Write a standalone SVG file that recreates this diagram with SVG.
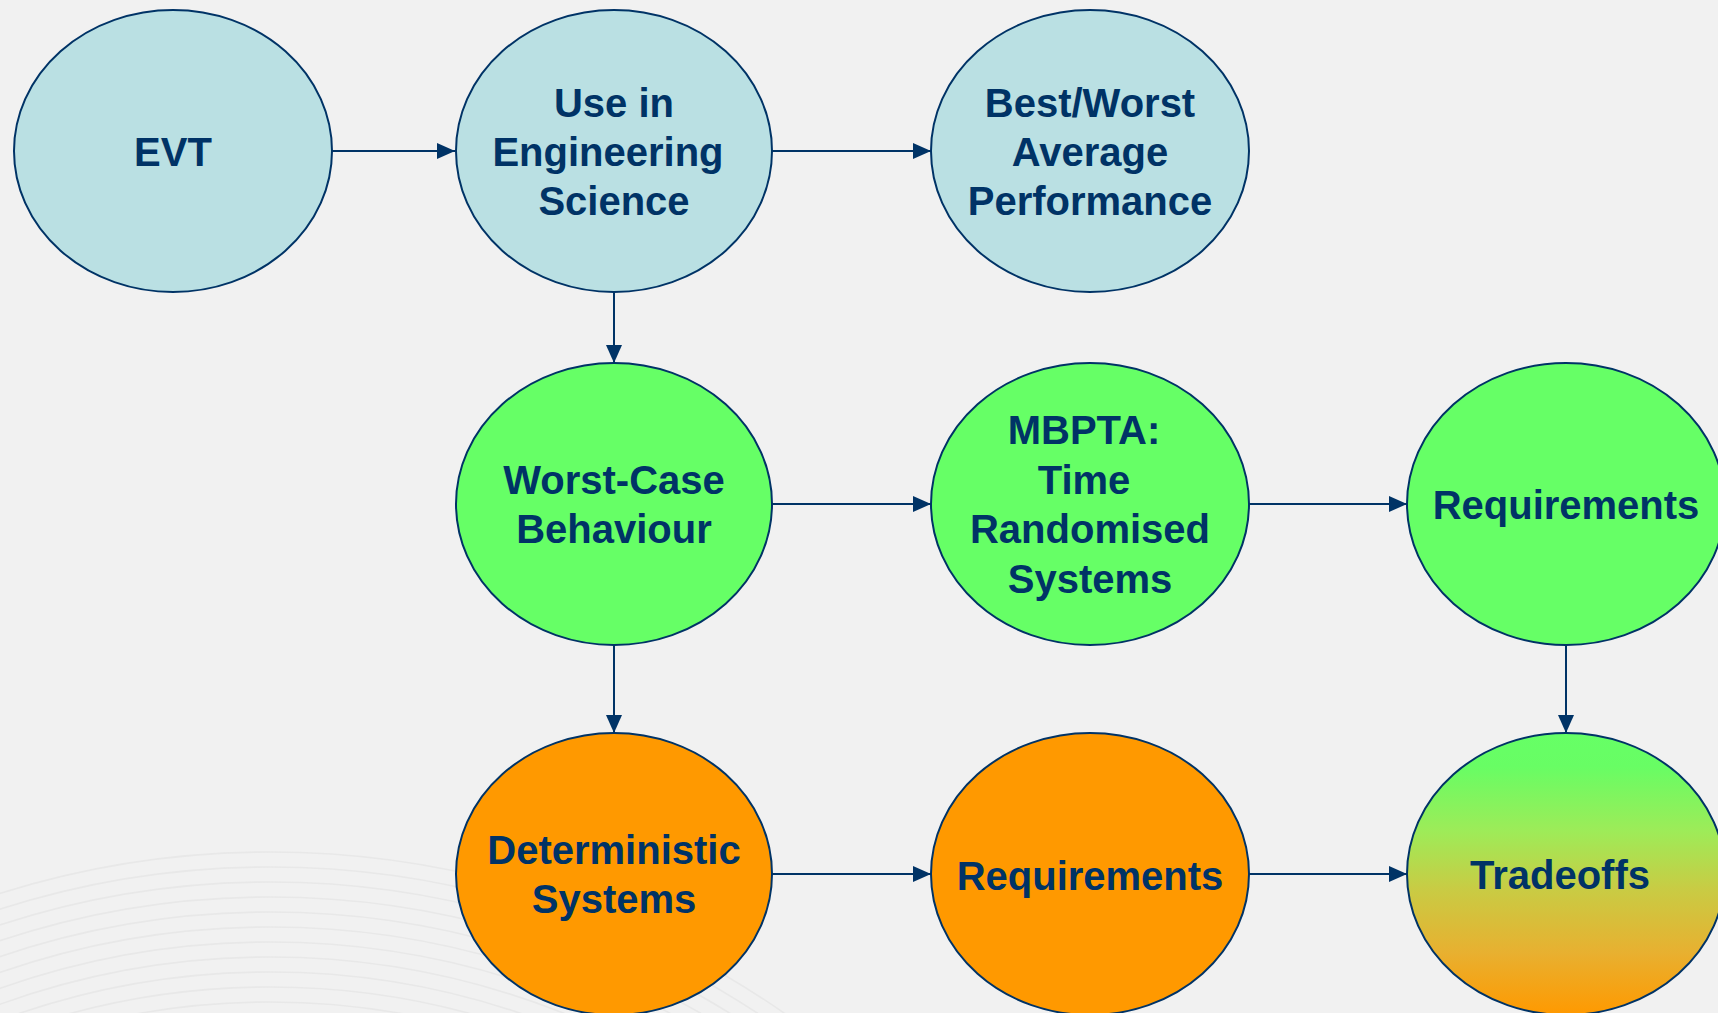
<svg xmlns="http://www.w3.org/2000/svg" width="1718" height="1013" viewBox="0 0 1718 1013">
<defs>
<style>
.n{stroke:#003366;stroke-width:2}
.blue{fill:#bae0e3}
.green{fill:#66ff66}
.orange{fill:#ff9900}
.t{font-family:"Liberation Sans",Arial,sans-serif;font-weight:bold;font-size:40px;fill:#003366;text-anchor:middle}
.c{stroke:#003366;stroke-width:2;fill:none;marker-end:url(#ah)}
.arc{fill:none;stroke:#e8e8e8;stroke-width:1.6}
</style>
<marker id="ah" viewBox="0 0 18 16" refX="18" refY="8" markerWidth="18" markerHeight="16" markerUnits="userSpaceOnUse" orient="auto">
<path d="M0,0 L18,8 L0,16 Z" fill="#003366"/>
</marker>
<linearGradient id="tg" x1="0" y1="0" x2="0" y2="1">
<stop offset="0" stop-color="#66ff66"/>
<stop offset="0.12" stop-color="#68fd64"/>
<stop offset="0.35" stop-color="#9eeb58"/>
<stop offset="0.55" stop-color="#c8cc44"/>
<stop offset="0.78" stop-color="#e8b030"/>
<stop offset="1" stop-color="#ff9900"/>
</linearGradient>
</defs>
<rect width="1718" height="1013" fill="#f1f1f1"/>
<g id="background-arcs">
<circle class="arc" cx="270" cy="1752" r="900"/>
<circle class="arc" cx="270" cy="1752" r="885"/>
<circle class="arc" cx="270" cy="1752" r="870"/>
<circle class="arc" cx="270" cy="1752" r="855"/>
<circle class="arc" cx="270" cy="1752" r="840"/>
<circle class="arc" cx="270" cy="1752" r="825"/>
<circle class="arc" cx="270" cy="1752" r="810"/>
<circle class="arc" cx="270" cy="1752" r="795"/>
<circle class="arc" cx="270" cy="1752" r="780"/>
<circle class="arc" cx="270" cy="1752" r="765"/>
<circle class="arc" cx="270" cy="1752" r="750"/>
</g>
<g id="connectors">
<line class="c" x1="332" y1="151" x2="455" y2="151"/>
<line class="c" x1="772" y1="151" x2="931" y2="151"/>
<line class="c" x1="614" y1="293" x2="614" y2="363"/>
<line class="c" x1="772" y1="504" x2="931" y2="504"/>
<line class="c" x1="1249" y1="504" x2="1407" y2="504"/>
<line class="c" x1="614" y1="645" x2="614" y2="733"/>
<line class="c" x1="1566" y1="645" x2="1566" y2="733"/>
<line class="c" x1="772" y1="874" x2="931" y2="874"/>
<line class="c" x1="1249" y1="874" x2="1407" y2="874"/>
</g>
<g id="evt">
<ellipse class="n blue" cx="173" cy="151" rx="159" ry="141"/>
<text class="t" x="173" y="166">EVT</text>
</g>
<g id="use-in-engineering-science">
<ellipse class="n blue" cx="614" cy="151" rx="158" ry="141"/>
<text class="t" x="614" y="117">Use in</text>
<text class="t" x="608" y="166">Engineering</text>
<text class="t" x="614" y="215">Science</text>
</g>
<g id="best-worst">
<ellipse class="n blue" cx="1090" cy="151" rx="159" ry="141"/>
<text class="t" x="1090" y="117">Best/Worst</text>
<text class="t" x="1090" y="166">Average</text>
<text class="t" x="1090" y="215">Performance</text>
</g>
<g id="worst-case">
<ellipse class="n green" cx="614" cy="504" rx="158" ry="141"/>
<text class="t" x="614" y="494">Worst-Case</text>
<text class="t" x="614" y="543">Behaviour</text>
</g>
<g id="mbpta">
<ellipse class="n green" cx="1090" cy="504" rx="159" ry="141"/>
<text class="t" x="1084" y="444">MBPTA:</text>
<text class="t" x="1084" y="494">Time</text>
<text class="t" x="1090" y="543">Randomised</text>
<text class="t" x="1090" y="593">Systems</text>
</g>
<g id="requirements-green">
<ellipse class="n green" cx="1566" cy="504" rx="159" ry="141"/>
<text class="t" x="1566" y="519">Requirements</text>
</g>
<g id="deterministic">
<ellipse class="n orange" cx="614" cy="874" rx="158" ry="141"/>
<text class="t" x="614" y="864">Deterministic</text>
<text class="t" x="614" y="913">Systems</text>
</g>
<g id="requirements-orange">
<ellipse class="n orange" cx="1090" cy="874" rx="159" ry="141"/>
<text class="t" x="1090" y="890">Requirements</text>
</g>
<g id="tradeoffs">
<ellipse class="n" fill="url(#tg)" cx="1566" cy="874" rx="159" ry="141"/>
<text class="t" x="1560" y="889">Tradeoffs</text>
</g>
</svg>
